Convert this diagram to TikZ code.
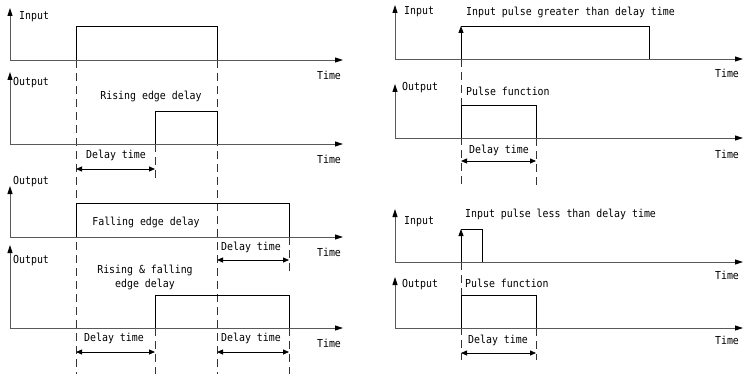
\documentclass[tikz,border=0pt]{standalone}
\usepackage{fontspec}
\newfontfamily\labfont[FakeStretch=0.9]{DejaVu Sans Mono}
\usetikzlibrary{arrows.meta}
\begin{document}
\begin{tikzpicture}[x=1pt,y=-1pt,
 axis/.style={line width=0.9pt, black!65, -{Triangle[length=8pt,width=5pt,black]}},
 sig/.style={line width=0.9pt, black},
 trig/.style={line width=0.9pt, black, -{Triangle[length=7pt,width=5pt]}},
 guide/.style={line width=0.8pt, black!80, dash pattern=on 8pt off 5pt},
 span/.style={line width=0.8pt, {Triangle[length=6pt,width=5pt]}-{Triangle[length=6pt,width=5pt]}},
 lab/.style={font=\labfont\fontsize{11}{13}\selectfont, inner sep=0pt, text=black},
]
\useasboundingbox (0,0) rectangle (743,374);
% ---------- left: guides ----------
\draw[guide] (76,60) -- (76,374);
\draw[guide] (217,60) -- (217,374);
\draw[guide] (155,144) -- (155,180);
\draw[guide] (155,328) -- (155,374);
\draw[guide] (289,237) -- (289,272);
\draw[guide] (289,328) -- (289,374);
% ---------- left: signals ----------
\draw[sig] (76,60) -- (76,26) -- (217,26) -- (217,60);
\draw[sig] (155,144) -- (155,111) -- (217,111) -- (217,144);
\draw[sig] (76,237) -- (76,203) -- (289,203) -- (289,237);
\draw[sig] (155,328) -- (155,295) -- (289,295) -- (289,328);
% ---------- left: axes ----------
\draw[axis] (10,60) -- (10,8);
\draw[axis] (10,60) -- (343,60);
\draw[axis] (10,144) -- (10,72);
\draw[axis] (10,144) -- (343,144);
\draw[axis] (10,237) -- (10,186);
\draw[axis] (10,237) -- (343,237);
\draw[axis] (10,328) -- (10,245);
\draw[axis] (10,328) -- (343,328);
% ---------- left: delay spans ----------
\draw[span] (76,169) -- (155,169);
\draw[span] (217,260) -- (289,260);
\draw[span] (76,352) -- (155,352);
\draw[span] (217,352) -- (289,352);
% ---------- left: labels ----------
\node[lab, anchor=west] (li1) at (19,17) {Input};
\node[lab, anchor=west] (lo1) at (13,83) {Output};
\node[lab, anchor=west] (lo2) at (13,182) {Output};
\node[lab, anchor=west] (lo3) at (13,261) {Output};
\node[lab] (lt1) at (329,75) {Time};
\node[lab] (lt2) at (329,159) {Time};
\node[lab] (lt3) at (329,252) {Time};
\node[lab] (lt4) at (329,343) {Time};
\node[lab] (rise) at (151,96) {Rising edge delay};
\node[lab] (fall) at (146,222) {Falling edge delay};
\node[lab] (both1) at (145,270) {Rising \& falling};
\node[lab] (both2) at (145,284) {edge delay};
\node[lab] (d1) at (116,155) {Delay time};
\node[lab] (d2) at (251,247) {Delay time};
\node[lab] (d3) at (114,338) {Delay time};
\node[lab] (d4) at (251,338) {Delay time};
% ---------- right: guides ----------
\draw[guide] (461,59) -- (461,185);
\draw[guide] (536,138) -- (536,185);
\draw[guide] (461,262) -- (461,360);
\draw[guide] (536,328) -- (536,360);
% ---------- right: signals ----------
\draw[trig] (461,59) -- (461,26);
\draw[sig] (461,26) -- (649,26) -- (649,59);
\draw[sig] (461,138) -- (461,105) -- (536,105) -- (536,138);
\draw[trig] (461,262) -- (461,229);
\draw[sig] (461,229) -- (482,229) -- (482,262);
\draw[sig] (461,328) -- (461,295) -- (536,295) -- (536,328);
% ---------- right: axes ----------
\draw[axis] (395,59) -- (395,5);
\draw[axis] (395,59) -- (743,59);
\draw[axis] (395,138) -- (395,84);
\draw[axis] (395,138) -- (743,138);
\draw[axis] (395,262) -- (395,209);
\draw[axis] (395,262) -- (743,262);
\draw[axis] (395,328) -- (395,277);
\draw[axis] (395,328) -- (743,328);
% ---------- right: delay spans ----------
\draw[span] (461,161) -- (536,161);
\draw[span] (461,353) -- (536,353);
% ---------- right: labels ----------
\node[lab, anchor=west] (ri1) at (404,12) {Input};
\node[lab, anchor=west] (rg) at (466,12) {Input pulse greater than delay time};
\node[lab, anchor=west] (ro1) at (402,88) {Output};
\node[lab, anchor=west] (rp1) at (466,91) {Pulse function};
\node[lab] (rd1) at (499,150) {Delay time};
\node[lab] (rt1) at (727,73) {Time};
\node[lab] (rt2) at (727,154) {Time};
\node[lab, anchor=west] (ri2) at (404,222) {Input};
\node[lab, anchor=west] (rl) at (465,214) {Input pulse less than delay time};
\node[lab, anchor=west] (ro2) at (402,285) {Output};
\node[lab, anchor=west] (rp2) at (465,283) {Pulse function};
\node[lab] (rd2) at (498,340) {Delay time};
\node[lab] (rt3) at (727,275) {Time};
\node[lab] (rt4) at (727,340) {Time};
\end{tikzpicture}
\end{document}
